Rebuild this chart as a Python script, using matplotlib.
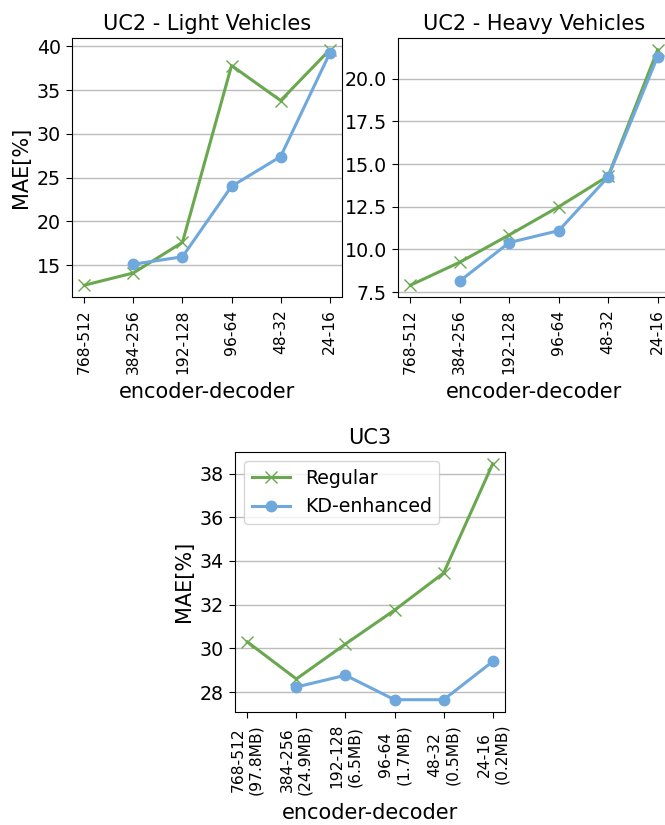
import matplotlib
matplotlib.use("Agg")
import matplotlib.pyplot as plt

configs = ["768-512", "384-256", "192-128", "96-64", "48-32", "24-16"]
sizes = ["97.8MB", "24.9MB", "6.5MB", "1.7MB", "0.5MB", "0.2MB"]

light_regular = [12.7, 14.1, 17.6, 37.8, 33.8, 39.6]
light_kd = [None, 15.1, 15.95, 24.0, 27.4, 39.2]

heavy_regular = [7.9, 9.25, 10.85, 12.5, 14.3, 21.7]
heavy_kd = [None, 8.15, 10.4, 11.1, 14.25, 21.3]

uc3_regular = [30.3, 28.6, 30.2, 31.75, 33.45, 38.45]
uc3_kd = [None, 28.23, 28.77, 27.65, 27.65, 29.4]

GREEN = "#6aa84f"
BLUE = "#6fa8dc"

fig = plt.figure(figsize=(6.65, 8.25), dpi=100)

W, H = 665.0, 825.0
def ax_at(left, top, right, bottom):
    return fig.add_axes([left / W, 1 - bottom / H, (right - left) / W, (bottom - top) / H])

ax1 = ax_at(72, 38, 342, 297)
ax2 = ax_at(398, 38, 670, 297)
ax3 = ax_at(235, 452, 505, 711.5)

def draw(ax, reg, kd, title, labels, ylabel=True, legend=False, xpad=6):
    x = list(range(len(configs)))
    xr = [i for i, v in zip(x, reg) if v is not None]
    yr = [v for v in reg if v is not None]
    xk = [i for i, v in zip(x, kd) if v is not None]
    yk = [v for v in kd if v is not None]
    ax.plot(xr, yr, color=GREEN, marker="x", markersize=8.5, linewidth=2.2, label="Regular")
    ax.plot(xk, yk, color=BLUE, marker="o", markersize=7.5, linewidth=2.2, label="KD-enhanced")
    ax.set_xticks(x)
    ax.set_xticklabels(labels, rotation=90, fontsize=11.2)
    ax.tick_params(axis="y", labelsize=13.7, length=4.5)
    ax.tick_params(axis="x", length=4.5, pad=4.5)
    ax.grid(axis="y", color="#bcbcbc", linewidth=1)
    ax.set_axisbelow(True)
    ax.set_title(title, fontsize=15)
    ax.set_xlabel("encoder-decoder", fontsize=15, labelpad=xpad)
    if ylabel:
        ax.set_ylabel("MAE[%]", fontsize=15)
    if legend:
        ax.legend(loc="upper left", fontsize=13.6)

draw(ax1, light_regular, light_kd, "UC2 - Light Vehicles", configs)
draw(ax2, heavy_regular, heavy_kd, "UC2 - Heavy Vehicles", configs, ylabel=False)
ax2.set_yticks([7.5, 10.0, 12.5, 15.0, 17.5, 20.0])
labels3 = [f"{c}\n({s})" for c, s in zip(configs, sizes)]
draw(ax3, uc3_regular, uc3_kd, "UC3", labels3, legend=True, xpad=6)

fig.savefig("out.png", dpi=100)
